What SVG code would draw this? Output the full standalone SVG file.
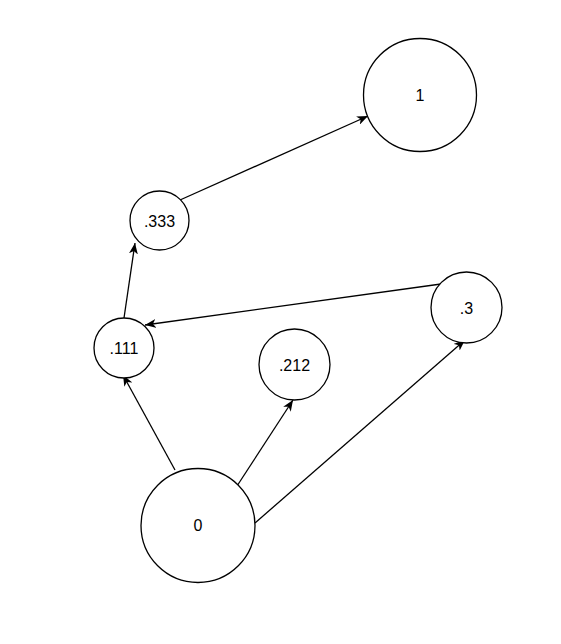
<svg xmlns="http://www.w3.org/2000/svg" width="561" height="644" viewBox="0 0 561 644">
<style>
.n circle{fill:#fff;stroke:#000;stroke-width:1.3}
.n text{font-family:"Liberation Sans",Arial,sans-serif;font-size:16px;fill:#000;text-anchor:middle;dominant-baseline:central}
.e line{stroke:#000;stroke-width:1.3;fill:none}
</style>
<defs>
<marker id="arr" markerUnits="userSpaceOnUse" markerWidth="12" markerHeight="9" refX="11" refY="4.5" orient="auto" viewBox="0 0 12 9">
<path d="M0,0 L11,4.5 L0,9 L3,4.5 Z" fill="#000"/>
</marker>
</defs>
<rect width="561" height="644" fill="#fff"/>
<g id="connectors" class="e">
<line x1="175" y1="470" x2="123" y2="375" marker-end="url(#arr)"/>
<line x1="237" y1="486" x2="293" y2="400" marker-end="url(#arr)"/>
<line x1="255" y1="523" x2="465" y2="340" marker-end="url(#arr)"/>
<line x1="441" y1="284" x2="145" y2="325" marker-end="url(#arr)"/>
<line x1="124" y1="318" x2="135" y2="243" marker-end="url(#arr)"/>
<line x1="180" y1="200" x2="368" y2="116" marker-end="url(#arr)"/>
</g>
<g id="n1" class="n"><circle cx="420" cy="95" r="56.5"/><text x="420" y="95">1</text></g>
<g id="n333" class="n"><circle cx="159.5" cy="220.5" r="29.5"/><text x="159.5" y="221">.333</text></g>
<g id="n111" class="n"><circle cx="124" cy="348" r="30"/><text x="124" y="348">.111</text></g>
<g id="n212" class="n"><circle cx="294.5" cy="364.5" r="35.5"/><text x="294.5" y="365">.212</text></g>
<g id="n3" class="n"><circle cx="466.5" cy="307.5" r="35.5"/><text x="466.5" y="308">.3</text></g>
<g id="n0" class="n"><circle cx="198" cy="525.5" r="57"/><text x="198" y="525">0</text></g>
</svg>
